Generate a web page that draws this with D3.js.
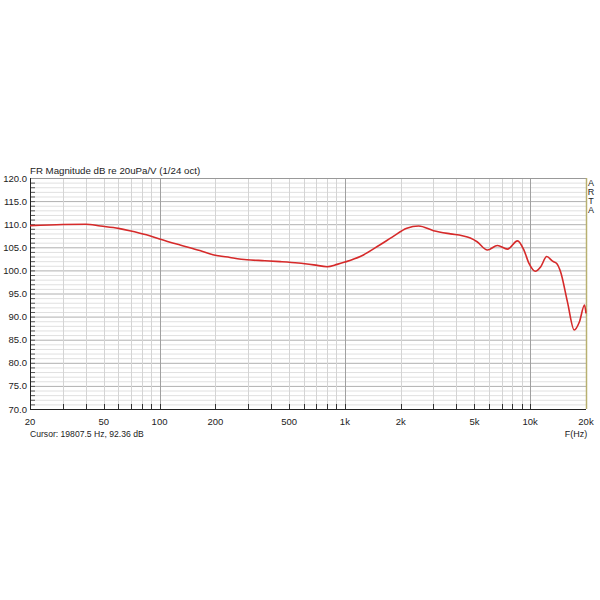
<!DOCTYPE html>
<html>
<head>
<meta charset="utf-8">
<script src="https://cdn.jsdelivr.net/npm/d3@7"></script>
<style>
  body { margin: 0; background: #fff; }
  text { font-family: "Liberation Sans", Arial, sans-serif; }
</style>
</head>
<body>
<div id="chart"></div>
<script>
// frequency response
var freqs = [20, 30, 40, 48, 60, 69, 85, 100, 129, 165, 194, 240, 296, 370, 448, 560, 680, 803, 908, 1000, 1210, 1542, 1800, 2158, 2502, 3006, 3710, 4300, 4752, 5170, 5876, 6656, 7538, 8537, 9250, 9850, 10660, 11400, 12280, 13200, 13900, 14580, 15880, 17280, 18440, 19640, 20000];
var levels = [109.7, 109.95, 110.0, 109.6, 109.1, 108.6, 107.7, 106.8, 105.5, 104.3, 103.4, 102.8, 102.3, 102.1, 101.9, 101.6, 101.2, 100.8, 101.3, 101.8, 103.0, 105.5, 107.2, 109.1, 109.6, 108.6, 107.9, 107.5, 107.0, 106.2, 104.4, 105.4, 104.6, 106.4, 104.4, 101.5, 99.8, 100.8, 103.0, 102.0, 101.5, 99.7, 93.2, 87.1, 88.9, 92.5, 90.7];

var xTicks = [20, 50, 100, 200, 500, 1000, 2000, 5000, 10000, 20000];
var xTickLabels = ["20", "50", "100", "200", "500", "1k", "2k", "5k", "10k", "20k"];
var yTicks = [70, 75, 80, 85, 90, 95, 100, 105, 110, 115, 120];

var width = 600, height = 600;
var margin = {top: 178, right: 14, bottom: 191, left: 30};
var plotW = width - margin.left - margin.right;
var plotH = height - margin.top - margin.bottom;

var svg = d3.select("#chart").append("svg")
    .attr("width", width)
    .attr("height", height);

var x = d3.scaleLog().domain([20, 20000]).range([0, plotW]);
var y = d3.scaleLinear().domain([70, 120]).range([plotH, 0]);

var g = svg.append("g")
    .attr("transform", "translate(" + margin.left + "," + margin.top + ")");

//vertical grid: every 1-2-3..9 in each decade
var vGrid = [];
[10, 100, 1000, 10000].forEach(function(dec) {
    for (var k = 1; k <= 9; k++) {
        var f = dec * k;
        if (f >= 20 && f <= 20000) vGrid.push(f);
    }
});
vGrid.push(20000);

//horizontal grid: every dB
var hGrid = d3.range(70, 121, 1);

g.selectAll(".hgrid")
    .data(hGrid)
    .enter().append("line")
    .attr("x1", 0).attr("x2", plotW)
    .attr("y1", function(d) { return y(d) + 0.5; })
    .attr("y2", function(d) { return y(d) + 0.5; })
    .attr("stroke", function(d) { return d % 5 === 0 ? "#b0b0b0" : "#e0e0e0"; })
    .attr("stroke-width", 1);

g.selectAll(".vgrid")
    .data(vGrid)
    .enter().append("line")
    .attr("y1", 0).attr("y2", plotH)
    .attr("x1", function(d) { return Math.round(x(d)) + 0.5; })
    .attr("x2", function(d) { return Math.round(x(d)) + 0.5; })
    .attr("stroke", function(d) { return (d === 100 || d === 1000 || d === 10000) ? "#a0a0a0" : "#d4d4d4"; })
    .attr("stroke-width", 1);

//small tick marks on the bottom and left edges
g.selectAll(".btick")
    .data(vGrid)
    .enter().append("line")
    .attr("y1", plotH).attr("y2", plotH - 5)
    .attr("x1", function(d) { return Math.round(x(d)) + 0.5; })
    .attr("x2", function(d) { return Math.round(x(d)) + 0.5; })
    .attr("stroke", "#333");

g.selectAll(".ltick")
    .data(hGrid)
    .enter().append("line")
    .attr("x1", 0).attr("x2", 5)
    .attr("y1", function(d) { return y(d) + 0.5; })
    .attr("y2", function(d) { return y(d) + 0.5; })
    .attr("stroke", "#555");

//frame
g.append("line").attr("x1", 0).attr("x2", plotW).attr("y1", 0.5).attr("y2", 0.5).attr("stroke", "#999");
g.append("line").attr("x1", plotW + 0.5).attr("x2", plotW + 0.5).attr("y1", 0).attr("y2", plotH).attr("stroke", "#b8b070").attr("stroke-width", 1.5);
g.append("line").attr("x1", 0.5).attr("x2", 0.5).attr("y1", 0).attr("y2", plotH + 0.5).attr("stroke", "#222");
g.append("line").attr("x1", 0).attr("x2", plotW).attr("y1", plotH + 0.5).attr("y2", plotH + 0.5).attr("stroke", "#222");

//response curve
var curveData = freqs.map(function(f, i) { return [f, levels[i]]; });
var line = d3.line()
    .x(function(d) { return x(d[0]); })
    .y(function(d) { return y(d[1]); })
    .curve(d3.curveMonotoneX);

g.append("path")
    .datum(curveData)
    .attr("d", line)
    .attr("fill", "none")
    .attr("stroke", "#d62a2a")
    .attr("stroke-width", 1.6);

//labels
g.selectAll(".ylabel")
    .data(yTicks)
    .enter().append("text")
    .attr("x", -3)
    .attr("y", function(d) { return y(d) + 3.5; })
    .attr("text-anchor", "end")
    .attr("font-size", "9.5px")
    .attr("fill", "#222")
    .text(function(d) { return d.toFixed(1); });

g.selectAll(".xlabel")
    .data(xTicks)
    .enter().append("text")
    .attr("x", function(d) { return x(d); })
    .attr("y", plotH + 15.5)
    .attr("text-anchor", "middle")
    .attr("font-size", "9.5px")
    .attr("fill", "#222")
    .text(function(d, i) { return xTickLabels[i]; });

svg.append("text")
    .attr("x", 30).attr("y", 174)
    .attr("font-size", "9.7px")
    .attr("fill", "#222")
    .text("FR Magnitude dB re 20uPa/V (1/24 oct)");

svg.append("text")
    .attr("x", 30).attr("y", 437)
    .attr("font-size", "8.6px")
    .attr("fill", "#222")
    .text("Cursor: 19807.5 Hz, 92.36 dB");

svg.append("text")
    .attr("x", 576).attr("y", 437)
    .attr("text-anchor", "middle")
    .attr("font-size", "9px")
    .attr("fill", "#222")
    .text("F(Hz)");

["A", "R", "T", "A"].forEach(function(ch, i) {
    svg.append("text")
        .attr("x", 591).attr("y", 186 + i * 9)
        .attr("text-anchor", "middle")
        .attr("font-size", "9px")
        .attr("fill", "#222")
        .text(ch);
});
</script>
</body>
</html>
